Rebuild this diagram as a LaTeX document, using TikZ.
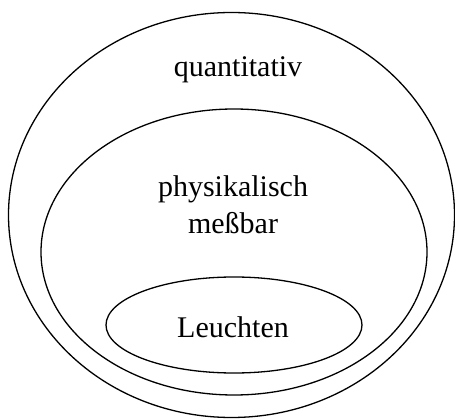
\documentclass[tikz,border=0pt]{standalone}
\usepackage{fontspec}
\setmainfont{Liberation Serif}
\usetikzlibrary{shapes.geometric,positioning}
\tikzset{
  region/.style={
    draw=black,
    ellipse,
    line width=1.3pt,
    inner sep=0pt
  },
  tag/.style={
    font=\fontsize{30}{37}\selectfont,
    align=center,
    inner sep=0pt
  }
}

\begin{document}
\begin{tikzpicture}[x=1pt,y=-1pt]
  \useasboundingbox (0,0) rectangle (455,419);

  \node[region, minimum width=446pt, minimum height=405pt] (outer) at (231.5,215) {};
  \node[region, minimum width=386pt, minimum height=286pt] (middle) at (234,252) {};
  \node[region, minimum width=256pt, minimum height=96pt] (inner) at (234,325) {};

  \node[tag] (quant) at (238,70) {quantitativ};
  \node[tag] (phys) at (233,205) {physikalisch\\meßbar};
  \node[tag] (leucht) at (233,327) {Leuchten};
\end{tikzpicture}
\end{document}
